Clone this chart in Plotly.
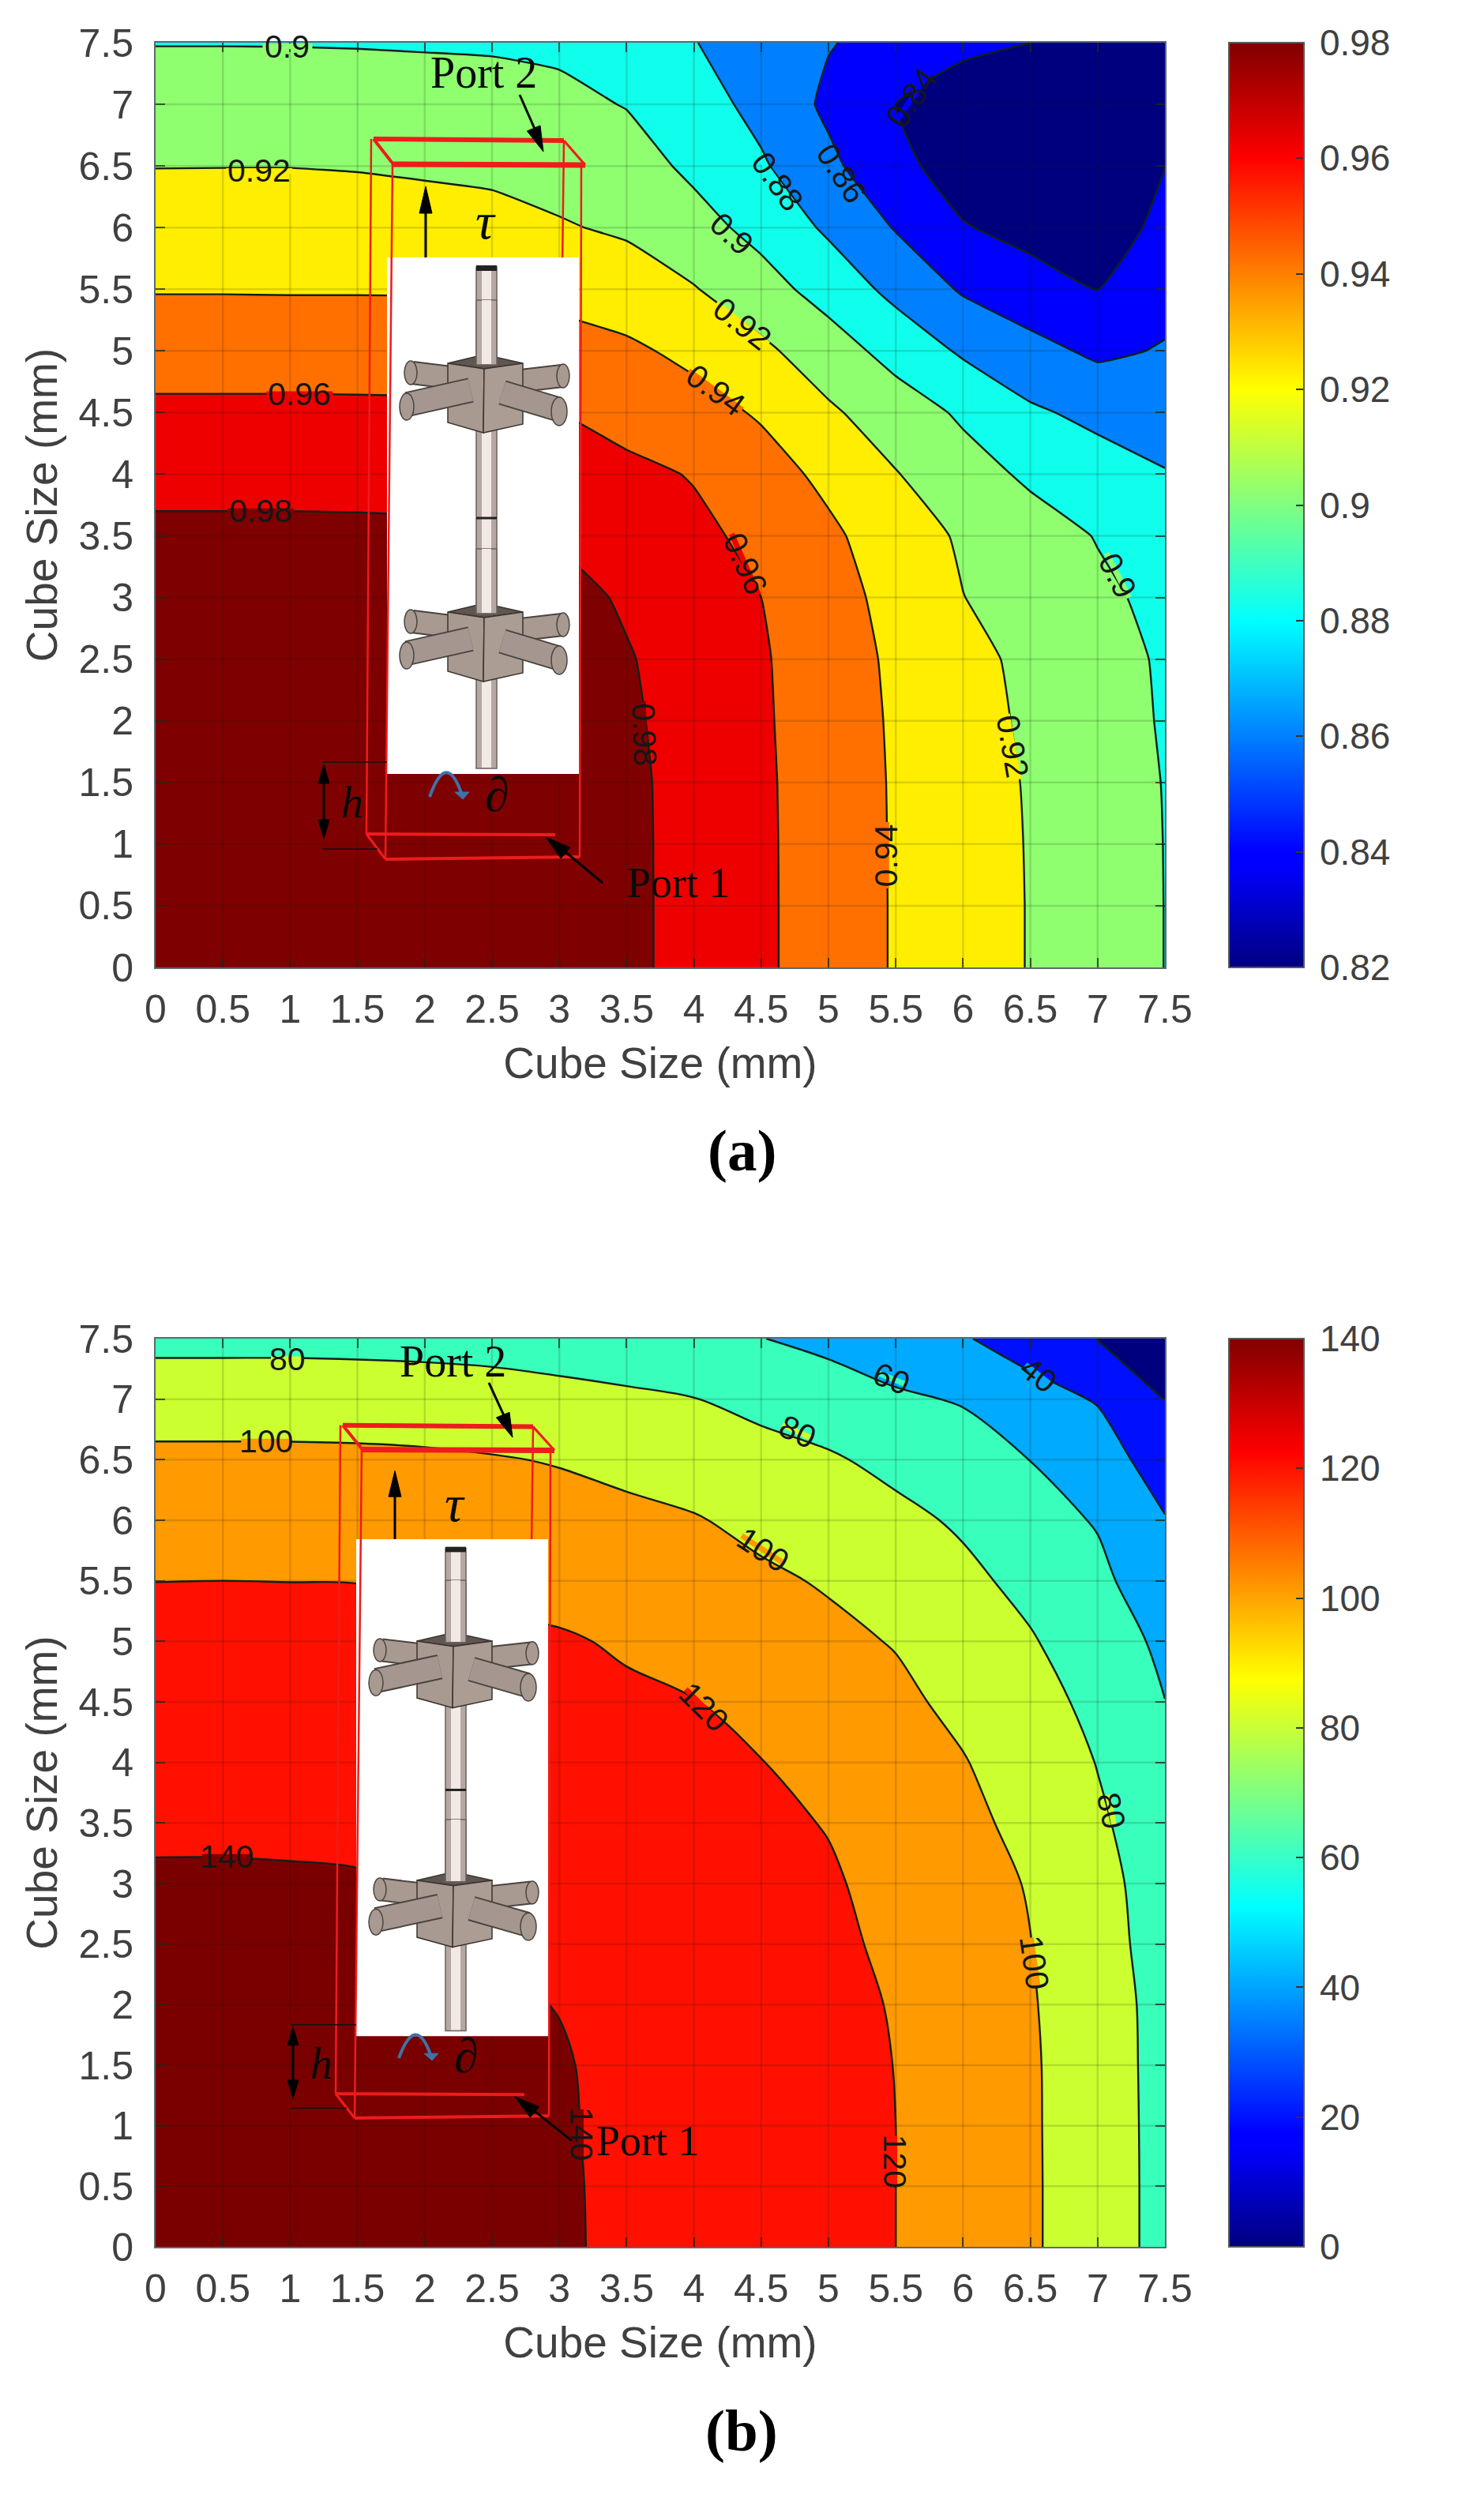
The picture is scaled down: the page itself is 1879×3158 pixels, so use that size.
import math
import plotly.graph_objects as go

W, H = 1879, 3158

# ---------- data ----------
X_MM = [0, 0.5, 1, 1.5, 2, 2.5, 3, 3.5, 4, 4.5, 5, 5.5, 6, 6.5, 7, 7.5]
Y_MM = [0, 0.5, 1, 1.5, 2, 2.5, 3, 3.5, 4, 4.5, 5, 5.5, 6, 6.5, 7, 7.5]
TICK_LABELS = ["0", "0.5", "1", "1.5", "2", "2.5", "3", "3.5", "4", "4.5", "5", "5.5", "6", "6.5", "7", "7.5"]

Z_A = [
    [.994, .994, .994, .994, .993, .992, .989, .9842, .9737, .9632, .9509, .9385, .9288, .9192, .9095, .8998],
    [.994, .994, .994, .994, .993, .992, .989, .9842, .9737, .9632, .9509, .9385, .9288, .9192, .9095, .8998],
    [.9935, .9935, .9935, .9935, .9925, .9915, .989, .9842, .9736, .9631, .9509, .9384, .9286, .919, .9095, .8997],
    [.993, .993, .993, .993, .992, .991, .989, .984, .9735, .9629, .9508, .9382, .9283, .9185, .909, .8994],
    [.992, .992, .992, .992, .991, .99, .988, .9829, .9727, .9624, .9501, .9377, .9272, .917, .9078, .8985],
    [.991, .991, .991, .991, .99, .989, .987, .9814, .9716, .9619, .9493, .9367, .9256, .9156, .9067, .8979],
    [.989, .989, .989, .9885, .988, .9875, .9865, .9777, .9688, .96, .9473, .9342, .9203, .9119, .9036, .8954],
    [.9842, .9842, .9842, .984, .9835, .9825, .9782, .9712, .9642, .9553, .9435, .9301, .9174, .9083, .8991, .8891],
    [.9737, .9737, .9737, .9735, .973, .972, .9689, .9646, .9589, .9478, .9356, .9209, .9078, .8968, .8889, .881],
    [.9638, .9638, .9638, .9636, .9633, .9625, .96, .953, .947, .938, .9229, .91, .8971, .8829, .8751, .8711],
    [.9513, .9513, .9513, .9512, .951, .9505, .9475, .9433, .9355, .924, .9092, .8931, .8773, .8659, .8566, .8614],
    [.939, .939, .9388, .9388, .9387, .9381, .9347, .9299, .9211, .9076, .8924, .8746, .8578, .8485, .8399, .8539],
    [.9293, .9292, .9291, .929, .928, .9264, .9216, .9173, .9069, .8941, .8769, .8588, .8413, .8335, .83, .845],
    [.9196, .9197, .9197, .919, .9175, .9159, .9128, .9082, .8961, .8824, .8641, .846, .83, .826, .825, .8398],
    [.9095, .9095, .9095, .909, .908, .907, .9046, .8992, .8885, .8742, .8564, .84, .8237, .82, .82, .822],
    [.8994, .8994, .8993, .899, .8985, .898, .8964, .89, .8806, .8708, .861, .8538, .847, .8401, .832, .825],
]
Z_B = [
    [145, 145, 145, 144.8, 144, 143, 141.7, 137.4, 133, 128.7, 124.3, 120, 111.2, 102.4, 89.3, 74.3],
    [145, 145, 145, 144.8, 144, 143, 141.6, 137.3, 133, 128.7, 124.3, 120, 111.2, 102.4, 89.3, 74.3],
    [145, 145, 145, 144.7, 143.9, 142.8, 141.3, 137.1, 132.8, 128.5, 124.2, 120, 111, 102.3, 89.2, 74.2],
    [144.5, 144.5, 144.5, 144.2, 143.4, 142.3, 141, 136.8, 132.5, 128.2, 124, 119.8, 110.8, 102.2, 89, 74],
    [144, 144, 144, 143.6, 142.7, 141.7, 139.7, 135.6, 131.5, 127.5, 123.6, 119.2, 110.1, 101.5, 88.3, 74],
    [143, 143, 142.8, 142.3, 141.5, 140.4, 136.7, 133.1, 129.5, 125.8, 122.8, 117.5, 108.5, 100.3, 86.7, 72.8],
    [141.9, 141.9, 141.6, 141, 138.8, 135.8, 132.8, 129.8, 126.8, 123.8, 121.8, 115, 107, 98.9, 85.3, 72.1],
    [137.5, 137.5, 137.3, 137.1, 136, 133, 130.5, 127.8, 125.4, 123.2, 119.3, 111, 104.9, 94.5, 82.3, 71],
    [133.1, 133.1, 133, 132.8, 131.5, 130, 127.5, 125.5, 122.8, 120.4, 113.8, 107.2, 101, 90.3, 79.5, 65.6],
    [128.7, 128.7, 128.5, 128.5, 127.5, 126, 124.5, 122.4, 120.5, 114.3, 108.6, 104, 95.5, 86.5, 75.5, 60.2],
    [124.3, 124.3, 124.2, 124.2, 123.3, 122.3, 121.6, 118.3, 113.4, 108.7, 104.1, 99, 90, 81.5, 69.7, 56.2],
    [119.9, 120, 119.9, 119.8, 118.3, 116.9, 114.6, 111.6, 107.5, 103, 98.4, 91.9, 84.2, 75, 64.6, 47.4],
    [111.2, 111.2, 111, 111, 110, 108.8, 107, 104.3, 101.2, 95.6, 90.2, 84.6, 77.5, 67.4, 58.6, 41],
    [104.5, 104.5, 104.4, 103.9, 103, 101.2, 98.9, 95.2, 91.3, 86.4, 82.1, 75.2, 68.1, 59.8, 49, 30.8],
    [89.6, 89.6, 89.6, 89.5, 88.6, 87.4, 85.6, 83.3, 80.4, 75, 69.7, 62.5, 58.7, 46.6, 38.8, 19.8],
    [75.5, 75.5, 75.5, 75, 74.5, 73.5, 71, 68, 64.9, 60.4, 55, 49.9, 41.3, 32.3, 19.7, 8],
]

BANDS_A = ["#00007f", "#0000ff", "#0080ff", "#10ffec", "#8fff70", "#ffee00", "#ff7000", "#ee0000", "#7f0000"]
BANDS_B = ["#00007f", "#0010ff", "#00aaff", "#38ffbc", "#ccff30", "#ff9a00", "#ff1000", "#7a0000"]

CBAR_A_VALS = [0.82, 0.84, 0.86, 0.88, 0.90, 0.92, 0.94, 0.96, 0.98]
CBAR_A_TEXT = ["\u20090.82", "\u20090.84", "\u20090.86", "\u20090.88", "\u20090.9", "\u20090.92", "\u20090.94", "\u20090.96", "\u20090.98"]
CBAR_B_VALS = [0, 20, 40, 60, 80, 100, 120, 140]
CBAR_B_TEXT = ["\u20090", "\u200920", "\u200940", "\u200960", "\u200980", "\u2009100", "\u2009120", "\u2009140"]

# text, x, y, angle, colour of the gap left in the contour line
LABELS_A = [
    ("0.9", 0.98, 7.47, 0, "#8fff70"), ("0.92", 0.77, 6.46, 0, "#ffee00"), ("0.96", 1.07, 4.65, 0, "#ee0000"),
    ("0.98", 0.78, 3.70, 0, "#7f0000"), ("0.9", 4.28, 5.95, 43, "#8fff70"), ("0.92", 4.36, 5.22, 38, "#ffee00"),
    ("0.94", 4.16, 4.68, 36, "#ff7000"), ("0.88", 4.62, 6.37, 54, "#10ffec"), ("0.86", 5.10, 6.44, 57, "#0080ff"),
    ("0.84", 5.62, 7.05, -55, "#0000ff"), ("0.96", 4.38, 3.27, 66, "#ee0000"), ("0.98", 3.63, 1.89, 88, "#7f0000"),
    ("0.94", 5.43, 0.91, -90, "#ff7000"), ("0.92", 6.37, 1.79, 80, "#ffee00"), ("0.9", 7.15, 3.18, 63, "#8fff70"),
]
LABELS_B = [
    ("80", 0.98, 7.33, 0, "#ccff30"), ("100", 0.82, 6.65, 0, "#ff9a00"), ("140", 0.53, 3.22, 0, "#7a0000"),
    ("60", 5.47, 7.17, 22, "#38ffbc"), ("40", 6.56, 7.20, 38, "#00aaff"), ("80", 4.77, 6.73, 25, "#ccff30"),
    ("100", 4.51, 5.76, 33, "#ff9a00"), ("120", 4.07, 4.46, 45, "#ff1000"), ("80", 7.10, 3.60, 78, "#ccff30"),
    ("100", 6.53, 2.35, 82, "#ff9a00"), ("120", 5.49, 0.71, 90, "#ff1000"), ("140", 3.16, 0.93, 90, "#7a0000"),
]

JET = [[0, "#000080"], [0.11, "#0000ff"], [0.125, "#0000ff"], [0.375, "#00ffff"],
       [0.625, "#ffff00"], [0.875, "#ff0000"], [1, "#800000"]]

# ---------- layout constants (pixels of the page) ----------
PLOT_L, PLOT_R = 197, 1475
A_T, A_B = 54, 1225
B_T, B_B = 1695, 2845
CB_L, CB_R = 1556, 1651
SANS, SERIF = "Liberation Sans", "Liberation Serif"
GREY = "#404040"


def px(x):
    return x / W


def py(y):
    return 1 - y / H


def scale(bands):
    n = len(bands) - 1
    return [[i / n, c] for i, c in enumerate(bands)]


def grid_xy():
    xs, ys = [], []
    for v in X_MM[1:-1]:
        xs += [v, v, None]
        ys += [0, 7.5, None]
        xs += [0, 7.5, None]
        ys += [v, v, None]
    return xs, ys


fig = go.Figure()
gx, gy = grid_xy()
for xa, ya, z, bands, start, end, size, smooth in [
    ("x", "y", Z_A, BANDS_A, 0.84, 0.9801, 0.02, 0.4),
    ("x2", "y2", Z_B, BANDS_B, 20, 140, 20, 1),
]:
    fig.add_trace(go.Contour(
        x=X_MM, y=Y_MM, z=z, xaxis=xa, yaxis=ya, showscale=False, hoverinfo="skip",
        colorscale=scale(bands),
        contours=dict(start=start, end=end, size=size, coloring="fill", showlabels=False),
        line=dict(color="#10201a", width=2.4, smoothing=smooth),
    ))
    fig.add_trace(go.Scatter(x=gx, y=gy, xaxis=xa, yaxis=ya, mode="lines", showlegend=False,
                             hoverinfo="skip", line=dict(color="rgba(20,30,10,0.15)", width=2.5)))

for xa, ya, vals, text, top, bottom in [
    ("x", "y", CBAR_A_VALS, CBAR_A_TEXT, A_T, A_B),
    ("x2", "y2", CBAR_B_VALS, CBAR_B_TEXT, B_T, B_B),
]:
    fig.add_trace(go.Scatter(
        x=[None], y=[None], xaxis=xa, yaxis=ya, mode="markers", showlegend=False, hoverinfo="skip",
        marker=dict(
            color=[vals[0], vals[-1]], cmin=vals[0], cmax=vals[-1], colorscale=JET, showscale=True,
            colorbar=dict(
                x=px(CB_L), xanchor="left", xpad=0, ypad=0, thickness=CB_R - CB_L, thicknessmode="pixels",
                y=py((top + bottom) / 2), yanchor="middle", lenmode="fraction", len=(bottom - top) / H,
                tickmode="array", tickvals=vals, ticktext=text, ticks="inside", ticklen=11, tickwidth=2,
                tickcolor="#333", outlinecolor="#5a5a5a", outlinewidth=2,
                tickfont=dict(family=SANS, size=46, color=GREY),
            ),
        ),
    ))

axis_common = dict(
    range=[0, 7.5], tickmode="array", tickvals=X_MM, ticktext=TICK_LABELS, ticks="inside", ticklen=12,
    tickwidth=2, tickcolor="rgba(30,40,30,0.75)", showgrid=False, zeroline=False, showline=True,
    linecolor="#5a6a70", linewidth=2, mirror="ticks", tickangle=0,
    tickfont=dict(family=SANS, size=50, color=GREY),
)
title_font = dict(family=SANS, size=55, color=GREY)


def xaxis(anchor):
    return dict(axis_common, anchor=anchor, domain=[px(PLOT_L), px(PLOT_R)], ticklabelstandoff=8,
                title=dict(text="Cube Size (mm)", font=title_font, standoff=21))


def yaxis(anchor, top, bottom):
    return dict(axis_common, anchor=anchor, domain=[py(bottom), py(top)], ticklabelstandoff=16,
                title=dict(text="Cube Size (mm)", font=title_font, standoff=9))


shapes, annotations = [], []


def label_items(labels, xa, ya, top, bottom):
    sx = (PLOT_R - PLOT_L) / 7.5
    sy = (bottom - top) / 7.5
    for text, x, y, ang, col in labels:
        half = 10.5 * len(text)
        a = math.radians(ang)
        dx, dy = half * math.cos(a) / sx, -half * math.sin(a) / sy
        shapes.append(dict(type="line", xref=xa, yref=ya, x0=x - dx, y0=y - dy, x1=x + dx, y1=y + dy,
                           layer="above", line=dict(color=col, width=7)))
        annotations.append(dict(text=text, x=x, y=y, xref=xa, yref=ya, textangle=ang, showarrow=False,
                                xanchor="center", yanchor="middle",
                                font=dict(family=SANS, size=41, color="#161616")))


label_items(LABELS_A, "x", "y", A_T, A_B)
label_items(LABELS_B, "x2", "y2", B_T, B_B)


def inset(tx, ty):
    def line(x0, y0, x1, y1, color, width):
        shapes.append(dict(type="line", xref="paper", yref="paper", layer="above",
                           x0=px(tx(x0)), y0=py(ty(y0)), x1=px(tx(x1)), y1=py(ty(y1)),
                           line=dict(color=color, width=width)))

    def poly(pts, fill, color="#3a3430", width=1.5, close=True):
        d = "M " + " L ".join(f"{px(tx(a))},{py(ty(b))}" for a, b in pts) + (" Z" if close else "")
        shapes.append(dict(type="path", path=d, xref="paper", yref="paper", layer="above",
                           fillcolor=fill, line=dict(color=color, width=width)))

    def rect(x0, y0, x1, y1, fill, color=None, width=0):
        shapes.append(dict(type="rect", xref="paper", yref="paper", layer="above",
                           x0=px(tx(x0)), y0=py(ty(y0)), x1=px(tx(x1)), y1=py(ty(y1)),
                           fillcolor=fill, line=dict(color=color or fill, width=width)))

    def oval(cx, cy, rx, ry, fill):
        shapes.append(dict(type="circle", xref="paper", yref="paper", layer="above",
                           x0=px(tx(cx - rx)), y0=py(ty(cy - ry)), x1=px(tx(cx + rx)), y1=py(ty(cy + ry)),
                           fillcolor=fill, line=dict(color="#4a4440", width=1.5)))

    def text(t, x, y, size, italic=False, family=SERIF):
        annotations.append(dict(text=f"<i>{t}</i>" if italic else t, x=px(tx(x)), y=py(ty(y)), xref="paper",
                                yref="paper", showarrow=False, xanchor="center", yanchor="middle",
                                font=dict(family=family, size=size, color="#0a0a0a")))

    def head(x0, y0, x1, y1, length=32, half=9):
        # filled arrow head pointing from (x0,y0) to (x1,y1)
        ln = ((x1 - x0) ** 2 + (y1 - y0) ** 2) ** 0.5
        ux, uy = (x1 - x0) / ln, (y1 - y0) / ln
        bx, by = x1 - ux * length, y1 - uy * length
        poly([(x1, y1), (bx - uy * half, by + ux * half), (bx + uy * half, by - ux * half)], "#000", "#000", 1)

    red = "#ee1c1c"
    # back edges of the port box
    line(470, 176, 464, 1056, red, 2.5)
    line(714, 178, 712, 335, red, 2.5)
    line(473, 176, 714, 178, red, 6)
    line(473, 176, 498, 208, red, 4)
    line(714, 178, 741, 209, red, 3)
    # tau arrow
    line(539, 328, 539, 262, "#000", 3)
    head(539, 328, 539, 236, 34, 8)
    # white panel holding the antenna
    rect(490, 326, 733, 980, "#ffffff")
    # front edges
    line(497, 208, 488, 1088, red, 2.5)
    line(736, 209, 734, 1085, red, 2.5)
    line(498, 208, 741, 209, red, 7)
    line(464, 1056, 703, 1057, red, 4)
    line(488, 1088, 734, 1085, red, 4)
    line(464, 1056, 488, 1088, red, 3)

    # antenna rod
    rect(603, 338, 629, 973, "#b5a8a2", "#6a625e", 1.5)
    rect(610, 339, 622, 972, "#f2e9e4")
    rect(603, 336, 629, 343, "#222222")
    line(603, 656, 629, 656, "#222", 3)

    for dy in (0, 315):
        # rear arms
        line(570, 478 + dy, 522, 472 + dy, "#4a4440", 30)
        line(570, 478 + dy, 522, 472 + dy, "#a89a90", 26)
        oval(520, 472 + dy, 8, 15, "#a89a90")
        line(660, 482 + dy, 712, 476 + dy, "#4a4440", 30)
        line(660, 482 + dy, 712, 476 + dy, "#a89a90", 26)
        oval(713, 476 + dy, 8, 15, "#a89a90")
        # cube
        poly([(567, 460 + dy), (613, 449 + dy), (662, 460 + dy), (613, 467 + dy)], "#5f5652")
        poly([(567, 460 + dy), (613, 467 + dy), (612, 548 + dy), (567, 535 + dy)], "#a89a90")
        poly([(613, 467 + dy), (662, 460 + dy), (662, 537 + dy), (612, 548 + dy)], "#ab9d93")
        # rod in front of the top of the cube
        rect(603, 380 + dy, 629, 462 + dy, "#b5a8a2", "#6a625e", 1.5)
        rect(610, 380 + dy, 622, 461 + dy, "#f2e9e4")
        # front arms
        line(596, 494 + dy, 516, 512 + dy, "#4a4440", 32)
        line(596, 494 + dy, 516, 512 + dy, "#a59790", 28)
        oval(515, 515 + dy, 9, 17, "#a89a90")
        line(636, 497 + dy, 706, 518 + dy, "#4a4440", 32)
        line(636, 497 + dy, 706, 518 + dy, "#a59790", 28)
        oval(708, 521 + dy, 10, 18, "#a89a90")

    # labels of the inset
    text("τ", 615, 279, 66, italic=True)
    text("Port 2", 612, 92, 56)
    text("Port 1", 859, 1118, 54)
    text("h", 446, 1016, 56, italic=True)
    text("∂", 629, 1006, 62, italic=True)
    # port arrows
    line(658, 120, 680, 170, "#000", 3)
    head(658, 120, 688, 192)
    line(763, 1118, 715, 1078, "#000", 3)
    head(763, 1118, 691, 1060)
    # h dimension
    line(408, 965, 490, 965, "#111", 1.5)
    line(408, 1075, 478, 1075, "#111", 1.5)
    line(410, 990, 410, 1045, "#000", 3)
    head(410, 1030, 410, 968, 24, 7)
    head(410, 1000, 410, 1062, 24, 7)
    # rotation arrow
    shapes.append(dict(type="path", xref="paper", yref="paper", layer="above",
                       path=f"M {px(tx(544))},{py(ty(1009))} Q {px(tx(565))},{py(ty(950))} {px(tx(584))},{py(ty(1004))}",
                       line=dict(color="#3f72a8", width=4)))
    poly([(576, 1003), (594, 1003), (586, 1012)], "#3f72a8", "#3f72a8", 1)


inset(lambda x: x, lambda y: y)
inset(lambda x: x - 39, lambda y: 1949 + (y - 326) * 0.962)

for t, x, y in [("(a)", 940, 1457), ("(b)", 939, 3077)]:
    annotations.append(dict(text=f"<b>{t}</b>", x=px(x), y=py(y), xref="paper", yref="paper", showarrow=False,
                            xanchor="center", yanchor="middle",
                            font=dict(family=SERIF, size=75, color="#000")))

fig.update_layout(
    width=W, height=H, margin=dict(l=0, r=0, t=0, b=0, autoexpand=False), paper_bgcolor="white", plot_bgcolor="white",
    showlegend=False, xaxis=xaxis("y"), yaxis=yaxis("x", A_T, A_B), xaxis2=xaxis("y2"),
    yaxis2=yaxis("x2", B_T, B_B), shapes=shapes, annotations=annotations,
    font=dict(family=SANS),
)

fig.write_html("out.html", config=dict(displayModeBar=False),
               post_script="document.body.style.margin='0';document.documentElement.style.overflow='hidden';")
